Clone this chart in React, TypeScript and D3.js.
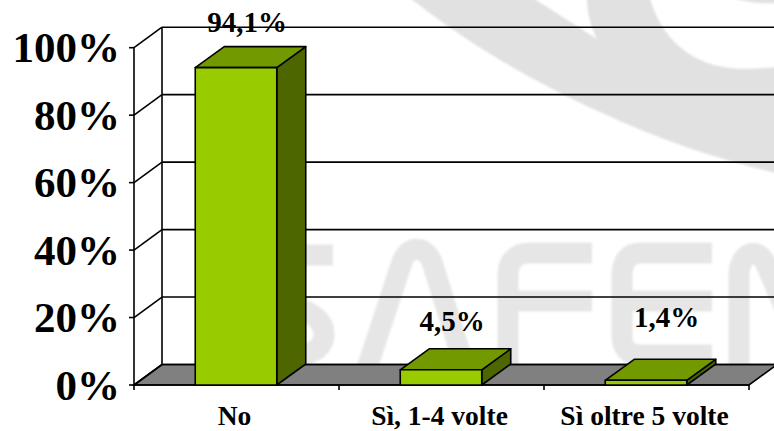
import React from "react";
import * as d3 from "d3";

const categories = ["No", "Sì, 1-4 volte", "Sì oltre 5 volte"];
const values = [94.1, 4.5, 1.4];
const valueLabels = ["94,1%", "4,5%", "1,4%"];
const yTicks = [0, 20, 40, 60, 80, 100];

const W = 774, H = 431;
const FONT = '"Liberation Serif", "Times New Roman", serif';
const y = d3.scaleLinear().domain([0, 100]).range([385, 47.7]);
const x = d3.scaleBand<string>().domain(categories).range([134, 749]);
const WALL_DX = 28, WALL_DY = -20.5;
const BAR_W = 81.5, BAR_DX = 29, BAR_DY = -21;
const labelShift = [
  { dx: 10.5, dy: -35.5 },
  { dx: 10.5, dy: -39 },
  { dx: 20, dy: -53.5 },
];

const poly = (pts: [number, number][]) => d3.line()(pts)! + "Z";

const watermarkFills = [
  "M410,-2 C470,45 530,80 600,112 C660,140 720,160 776,173 L776,67 C750,70 725,70 705,62 C675,50 657,25 650,-2 L587,-2 C587,12 590,25 597,39 L533,-2 Z",
  "M733,-2 L776,-2 L776,3 C760,4 745,2 733,-2 Z",
];
const watermarkStrokes = [
  // S
  "M333,255 L285,255 C265,255 258,270 262,285 C268,305 325,305 324,335 C323,355 300,358 262,358",
  // A
  "M367,368 L402,262 C408,245 425,245 432,262 L465,368",
  // F
  "M592,253 L530,253 C515,253 508,262 508,275 L508,368 M508,301 L592,301",
  // E
  "M712,253 L640,253 C628,253 622,262 622,275 L622,335 C622,348 628,355 640,355 L712,355 M622,301 L712,301",
  // M
  "M739,368 L739,275 C739,255 755,245 765,262 L790,320",
];

export default function App() {
  const band = x.bandwidth();
  return (
    <svg width={W} height={H} style={{ position: "fixed", left: 0, top: 0, background: "#fff" }}>
      <defs>
        <filter id="soft" x="-5%" y="-5%" width="110%" height="110%">
          <feGaussianBlur stdDeviation="1.2" />
        </filter>
        <clipPath id="page"><rect width={W} height={H} /></clipPath>
      </defs>
      <g clipPath="url(#page)">
        <g filter="url(#soft)">
          {watermarkFills.map((d, i) => <path key={i} d={d} fill="#e1e1e1" />)}
          {watermarkStrokes.map((d, i) => (
            <path key={i} d={d} fill="none" stroke="#e6e6e6" strokeWidth={21} />
          ))}
        </g>

        {/* floor */}
        <path
          d={poly([
            [134, y(0)],
            [134 + WALL_DX, y(0) + WALL_DY],
            [749 + WALL_DX, y(0) + WALL_DY],
            [749, y(0)],
          ])}
          fill="#808080"
          stroke="#000"
          strokeWidth={1.6}
        />

        {/* back wall gridlines and side wall */}
        {yTicks.map((t) => (
          <g key={t} stroke="#000" strokeWidth={1.6} fill="none">
            <line x1={134 + WALL_DX} x2={W + 5} y1={y(t) + WALL_DY} y2={y(t) + WALL_DY} />
            <line x1={134} x2={134 + WALL_DX} y1={y(t)} y2={y(t) + WALL_DY} />
            <line x1={129} x2={134} y1={y(t)} y2={y(t)} />
          </g>
        ))}
        <line x1={134 + WALL_DX} x2={134 + WALL_DX} y1={y(100) + WALL_DY} y2={y(0) + WALL_DY} stroke="#000" strokeWidth={1.6} />
        <line x1={134} x2={134} y1={y(100)} y2={y(0) + 5} stroke="#000" strokeWidth={1.6} />
        <line x1={134} x2={749} y1={y(0)} y2={y(0)} stroke="#000" strokeWidth={1.6} />
        {[...categories.map((c) => x(c)! + band)].map((t, i) => (
          <line key={i} x1={t} x2={t} y1={y(0)} y2={y(0) + 5} stroke="#000" strokeWidth={1.6} />
        ))}

        {/* bars */}
        {categories.map((c, i) => {
          const l = x(c)! + (band - BAR_W) / 2 - 0.5;
          const r = l + BAR_W;
          const top = y(values[i]);
          const base = y(0);
          return (
            <g key={c} stroke="#000" strokeWidth={1.6} strokeLinejoin="round">
              <path d={poly([[r, base], [r + BAR_DX, base + BAR_DY], [r + BAR_DX, top + BAR_DY], [r, top]])} fill="#4d6600" />
              <path d={poly([[l, top], [l + BAR_DX, top + BAR_DY], [r + BAR_DX, top + BAR_DY], [r, top]])} fill="#739900" />
              <path d={poly([[l, base], [l, top], [r, top], [r, base]])} fill="#99cc00" />
            </g>
          );
        })}

        {/* y labels */}
        {yTicks.map((t) => (
          <text key={t} x={120} y={y(t) + 14.5} textAnchor="end" fontFamily={FONT} fontWeight="bold" fontSize={43} fill="#000">
            {t}%
          </text>
        ))}

        {/* x labels */}
        {categories.map((c) => (
          <text key={c} x={x(c)! + band / 2 - 2} y={425} textAnchor="middle" fontFamily={FONT} fontWeight="bold" fontSize={27.5} fill="#000">
            {c}
          </text>
        ))}

        {/* value labels */}
        {categories.map((c, i) => (
          <text key={c} x={x(c)! + band / 2 + labelShift[i].dx} y={y(values[i]) + labelShift[i].dy} textAnchor="middle" fontFamily={FONT} fontWeight="bold" fontSize={29} fill="#000">
            {valueLabels[i]}
          </text>
        ))}
      </g>
    </svg>
  );
}
